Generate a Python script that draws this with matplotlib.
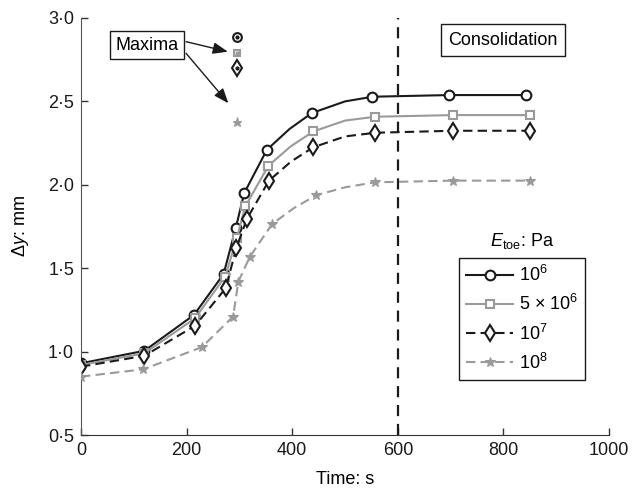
"""Displacement vs time for four toe stiffness values (consolidation stage marked)."""

import matplotlib

matplotlib.use("Agg")
import matplotlib.pyplot as plt
from matplotlib.ticker import FuncFormatter, MultipleLocator

plt.rcParams["font.family"] = ["Liberation Sans", "DejaVu Sans"]
plt.rcParams["mathtext.fontset"] = "custom"
plt.rcParams["mathtext.rm"] = "Liberation Sans"
plt.rcParams["mathtext.it"] = "Liberation Sans:italic"
plt.rcParams["mathtext.bf"] = "Liberation Sans:bold"

# --- data -----------------------------------------------------------------
# time (s) / displacement (mm); MARKED = indices that carry a marker
T_1E6 = [0, 120, 214, 270, 293, 309, 352, 395, 437, 500, 552, 697, 843]
Y_1E6 = [0.93, 1.005, 1.22, 1.465, 1.74, 1.95, 2.21, 2.335, 2.43, 2.50, 2.528, 2.538, 2.538]

T_5E6 = [0, 120, 216, 273, 295, 311, 355, 397, 440, 500, 557, 704, 850]
Y_5E6 = [0.92, 0.99, 1.20, 1.45, 1.68, 1.87, 2.115, 2.23, 2.32, 2.385, 2.408, 2.418, 2.418]

T_1E7 = [0, 120, 216, 274, 294, 314, 356, 398, 440, 500, 557, 704, 850]
Y_1E7 = [0.91, 0.975, 1.155, 1.38, 1.62, 1.795, 2.025, 2.14, 2.225, 2.29, 2.312, 2.324, 2.324]

T_1E8 = [0, 118, 229, 288, 298, 320, 362, 403, 445, 500, 557, 704, 850]
Y_1E8 = [0.85, 0.894, 1.027, 1.21, 1.42, 1.57, 1.765, 1.86, 1.937, 1.985, 2.015, 2.025, 2.025]

MARKED = [0, 1, 2, 3, 4, 5, 6, 8, 10, 11, 12]

# peak values (all at the same instant)
T_MAX = 295
Y_MAX = [2.888, 2.788, 2.70, 2.378]

LABELS = [r"10$^6$", "5 \u00d7 10$^6$", r"10$^7$", r"10$^8$"]
T_CONSOLIDATION = 600

BLACK = "#1a1a1a"
GREY = "#9a9a9a"

STYLES = [
    dict(color=BLACK, ls="-", marker="o", ms=7),
    dict(color=GREY, ls="-", marker="s", ms=5.5),
    dict(color=BLACK, ls=(0, (4.5, 2.5)), marker="d", ms=8.5),
    dict(color=GREY, ls=(0, (4.5, 2.5)), marker="*", ms=7.5),
]


def main() -> None:
    fig = plt.figure(figsize=(6.39, 4.93), dpi=100)
    ax = fig.add_axes([0.1268, 0.1176, 0.8263, 0.8459])

    series = [(T_1E6, Y_1E6), (T_5E6, Y_5E6), (T_1E7, Y_1E7), (T_1E8, Y_1E8)]
    for (t, y), style, label in zip(series, STYLES, LABELS):
        star = style["marker"] == "*"
        ax.plot(
            t,
            y,
            color=style["color"],
            ls=style["ls"],
            lw=1.5,
            marker=style["marker"],
            ms=style["ms"],
            markevery=MARKED,
            mfc=style["color"] if star else "white",
            mec=style["color"],
            mew=1.5 if not star else 0.8,
            label=label,
            zorder=3,
        )

    # maxima: marker with a dot in the middle
    for ymax, style in zip(Y_MAX, STYLES):
        star = style["marker"] == "*"
        ax.plot(
            [T_MAX],
            [ymax],
            ls="none",
            marker=style["marker"],
            ms=style["ms"] * 0.9,
            mfc=style["color"] if star else "white",
            mec=style["color"],
            mew=1.5 if not star else 0.8,
            zorder=4,
        )
        if not star:
            ax.plot([T_MAX], [ymax], ls="none", marker="o", ms=2, color=style["color"], zorder=5)

    ax.axvline(T_CONSOLIDATION, ymin=0, ymax=1, color=BLACK, lw=1.6, ls=(0, (5, 3.5)), zorder=2)

    box = dict(boxstyle="square,pad=0.3", fc="white", ec=BLACK, lw=1.0)
    ax.text(125, 2.838, "Maxima", ha="center", va="center", fontsize=13, bbox=box)
    box_c = dict(boxstyle="square,pad=0.4", fc="white", ec=BLACK, lw=1.0)
    ax.text(799, 2.868, "Consolidation", ha="center", va="center", fontsize=13, bbox=box_c)

    arrow = dict(arrowstyle="-|>,head_length=0.9,head_width=0.35", color=BLACK, lw=1.0,
                 shrinkA=0, shrinkB=0)
    ax.annotate("", xy=(278, 2.798), xytext=(199, 2.858), arrowprops=arrow)
    ax.annotate("", xy=(279, 2.489), xytext=(199, 2.788), arrowprops=arrow)

    leg = ax.legend(
        loc="upper left",
        bbox_to_anchor=(0.716, 0.4245),
        borderaxespad=0,
        fontsize=13,
        frameon=True,
        fancybox=False,
        edgecolor=BLACK,
        framealpha=1,
        numpoints=1,
        handlelength=2.6,
        handletextpad=0.3,
        labelspacing=0.5,
        borderpad=0.4,
    )
    leg.get_frame().set_linewidth(1.0)
    ax.text(835, 1.663, r"$E_{\rm toe}$: Pa", ha="center", va="center", fontsize=13)

    ax.set_xlim(0, 1000)
    ax.set_ylim(0.5, 3.0)
    ax.xaxis.set_major_locator(MultipleLocator(200))
    ax.yaxis.set_major_locator(MultipleLocator(0.5))
    ax.yaxis.set_major_formatter(FuncFormatter(lambda v, _: f"{v:.1f}".replace(".", "\u00b7")))
    ax.tick_params(direction="in", length=5, width=1.0, labelsize=13, colors="#333333",
                   labelcolor=BLACK, pad=5)
    for side in ("top", "right"):
        ax.spines[side].set_visible(False)
    ax.spines["left"].set_color("#555555")
    ax.spines["bottom"].set_color("#333333")

    ax.set_xlabel("Time: s", fontsize=13, labelpad=9)
    ax.set_ylabel(r"$\Delta y$: mm", fontsize=13, labelpad=12)

    fig.savefig("out.png", dpi=100)
    plt.close(fig)


if __name__ == "__main__":
    main()
